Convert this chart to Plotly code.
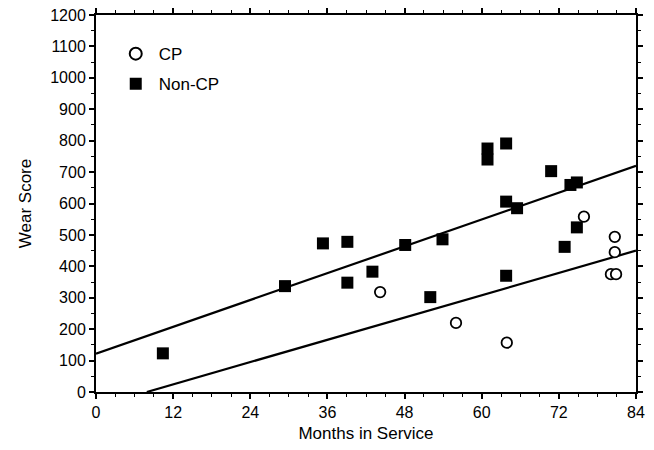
import plotly.graph_objects as go

# Data
cp_months = [44.2, 56.0, 63.9, 75.9, 80.7, 80.7, 80.1, 80.9]
cp_wear = [318, 220, 157, 558, 494, 445, 375, 375]

noncp_months = [10.4, 29.4, 35.3, 39.1, 39.1, 43.0, 48.1, 52.0, 53.9, 60.9, 60.9,
                63.8, 63.8, 65.5, 63.8, 70.8, 72.9, 73.8, 74.8, 74.8]
noncp_wear = [123, 337, 473, 478, 348, 383, 468, 302, 486, 775, 740,
              791, 606, 585, 370, 703, 462, 659, 667, 524]

# Fitted lines (endpoints)
noncp_fit_x = [0, 84]
noncp_fit_y = [122, 720]
cp_fit_x = [7.9, 84]
cp_fit_y = [0, 450]

x_ticks = [0, 12, 24, 36, 48, 60, 72, 84]
y_ticks = list(range(0, 1201, 100))

FONT = "Liberation Sans, Arial, sans-serif"

fig = go.Figure()
fig.add_trace(go.Scatter(x=noncp_fit_x, y=noncp_fit_y, mode="lines",
                         line=dict(color="black", width=2.2), showlegend=False))
fig.add_trace(go.Scatter(x=cp_fit_x, y=cp_fit_y, mode="lines",
                         line=dict(color="black", width=2.2), showlegend=False))
fig.add_trace(go.Scatter(x=cp_months, y=cp_wear, mode="markers", name="CP",
                         legendgroup="cp",
                         marker=dict(symbol="circle", size=10.5, color="white",
                                     line=dict(color="black", width=1.8))))
fig.add_trace(go.Scatter(x=noncp_months, y=noncp_wear, mode="markers", name="Non-CP",
                         legendgroup="noncp",
                         marker=dict(symbol="square", size=12, color="black",
                                     line=dict(color="black", width=0))))

axis_common = dict(
    showgrid=False, zeroline=False, showline=True, linecolor="black", linewidth=2,
    mirror="ticks", ticks="outside", ticklen=5, tickwidth=1.5, tickcolor="black",
    tickfont=dict(family=FONT, size=16, color="black"), automargin=False,
)

fig.update_xaxes(**axis_common, range=[0, 84], tickvals=x_ticks,
                 minor=dict(dtick=3, tick0=0, ticks="outside", ticklen=3,
                            tickwidth=1.2, tickcolor="black"),
                 title=dict(text="Months in Service", standoff=7,
                            font=dict(family=FONT, size=17, color="black")))
fig.update_yaxes(**axis_common, range=[0, 1200], tickvals=y_ticks,
                 minor=dict(dtick=50, tick0=0, ticks="outside", ticklen=3,
                            tickwidth=1.2, tickcolor="black"),
                 title=dict(text="Wear Score", standoff=14,
                            font=dict(family=FONT, size=17, color="black")))

fig.update_layout(
    width=654, height=450,
    margin=dict(l=96, r=18, t=15, b=58),
    paper_bgcolor="white", plot_bgcolor="white",
    font=dict(family=FONT, color="black"),
    legend=dict(x=0.031, y=0.944, xanchor="left", yanchor="top",
                bgcolor="rgba(0,0,0,0)", font=dict(family=FONT, size=17, color="black"),
                itemsizing="constant", tracegroupgap=5, itemwidth=36),
)

fig.write_html("out.html")
